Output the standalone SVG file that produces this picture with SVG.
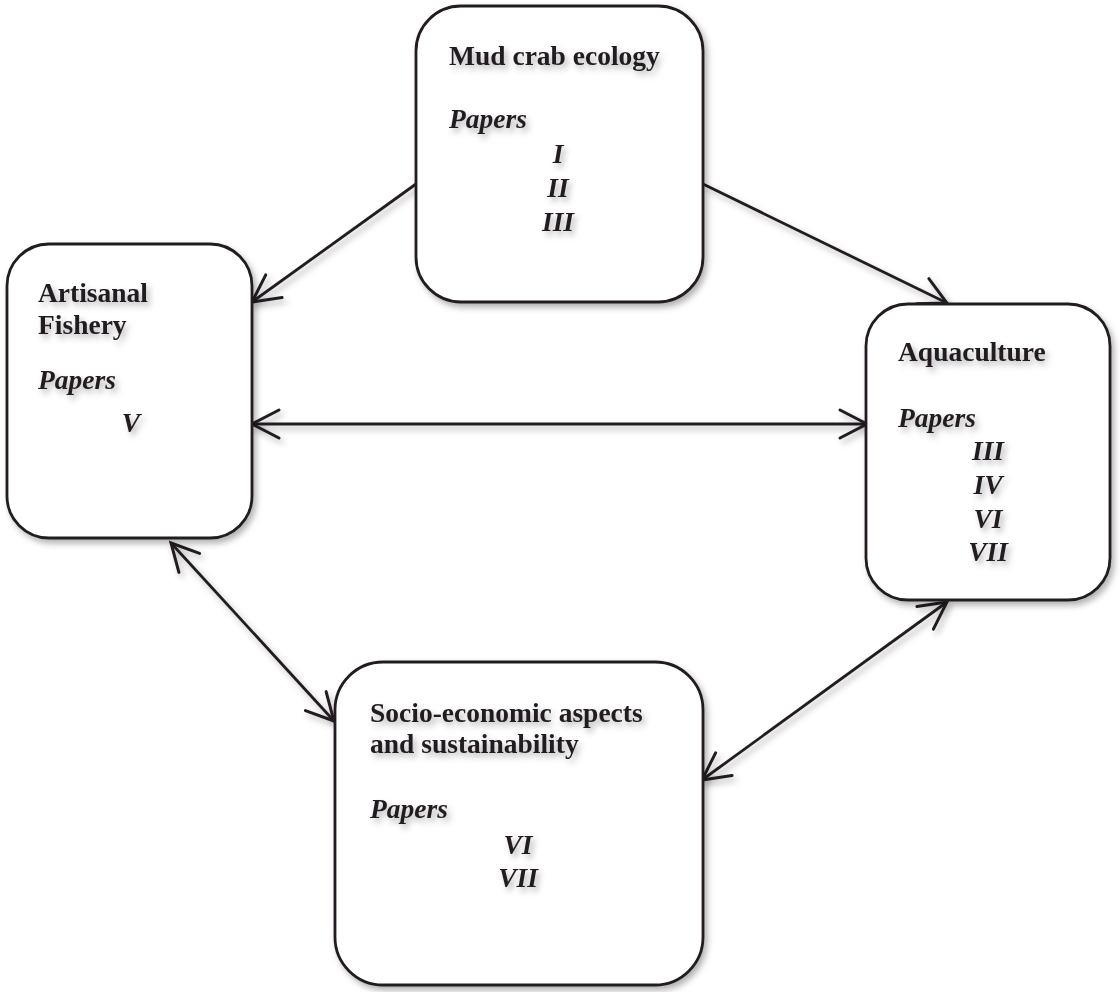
<svg xmlns="http://www.w3.org/2000/svg" width="1120" height="992" viewBox="0 0 1120 992">
<style>
.box{fill:#fff;stroke:#231f20;stroke-width:2.8}
.t{font-family:"Liberation Serif","Times New Roman",serif;font-size:27.5px;font-weight:bold;fill:#231f20}
.i{font-style:italic}
.c{fill:none;stroke:#231f20;stroke-width:2.8}
</style>
<defs>
<filter id="sh" x="-20%" y="-20%" width="140%" height="140%">
<feDropShadow dx="3" dy="4" stdDeviation="3" flood-color="#000" flood-opacity="0.3"/>
</filter>
<marker id="ah" markerUnits="userSpaceOnUse" markerWidth="36" markerHeight="36" refX="31" refY="17" orient="auto-start-reverse" viewBox="0 0 36 36">
<path d="M4,3 L31,17 L4,31" fill="none" stroke="#231f20" stroke-width="3" stroke-linecap="round" stroke-linejoin="miter"/>
</marker>
</defs>
<g id="connectors" filter="url(#sh)">
<line class="c" x1="416" y1="184" x2="252" y2="302" marker-end="url(#ah)"/>
<line class="c" x1="703" y1="184" x2="947" y2="303" marker-end="url(#ah)"/>
<line class="c" x1="252" y1="424" x2="867" y2="424" marker-start="url(#ah)" marker-end="url(#ah)"/>
<line class="c" x1="171" y1="543" x2="334" y2="721" marker-start="url(#ah)" marker-end="url(#ah)"/>
<line class="c" x1="702" y1="780" x2="947" y2="602" marker-start="url(#ah)" marker-end="url(#ah)"/>
</g>
<g id="mud-crab-ecology">
<rect class="box" x="416" y="6" width="287" height="296" rx="45" filter="url(#sh)"/>
<g filter="url(#sh)">
<text class="t" x="449" y="65">Mud crab ecology</text>
<text class="t i" x="449" y="128">Papers</text>
<text class="t i" x="558" y="163" text-anchor="middle">I</text>
<text class="t i" x="558" y="197" text-anchor="middle">II</text>
<text class="t i" x="558" y="231" text-anchor="middle">III</text>
</g>
</g>
<g id="artisanal-fishery">
<rect class="box" x="7" y="244" width="245" height="294" rx="42" filter="url(#sh)"/>
<g filter="url(#sh)">
<text class="t" x="38" y="302">Artisanal</text>
<text class="t" x="38" y="334">Fishery</text>
<text class="t i" x="38" y="389">Papers</text>
<text class="t i" x="131" y="432" text-anchor="middle">V</text>
</g>
</g>
<g id="aquaculture">
<rect class="box" x="866" y="304" width="244" height="296" rx="42" filter="url(#sh)"/>
<g filter="url(#sh)">
<text class="t" x="898" y="361">Aquaculture</text>
<text class="t i" x="898" y="427">Papers</text>
<text class="t i" x="988" y="460" text-anchor="middle">III</text>
<text class="t i" x="988" y="494" text-anchor="middle">IV</text>
<text class="t i" x="988" y="528" text-anchor="middle">VI</text>
<text class="t i" x="988" y="561" text-anchor="middle">VII</text>
</g>
</g>
<g id="socio-economic">
<rect class="box" x="335" y="662" width="368" height="323" rx="48" filter="url(#sh)"/>
<g filter="url(#sh)">
<text class="t" x="370" y="722">Socio-economic aspects</text>
<text class="t" x="370" y="753">and sustainability</text>
<text class="t i" x="370" y="818">Papers</text>
<text class="t i" x="518" y="854" text-anchor="middle">VI</text>
<text class="t i" x="518" y="887" text-anchor="middle">VII</text>
</g>
</g>
</svg>
